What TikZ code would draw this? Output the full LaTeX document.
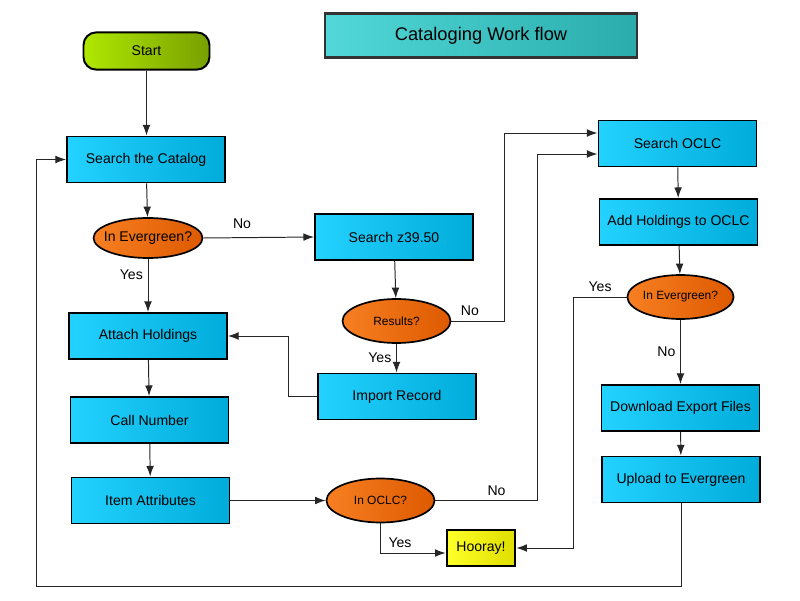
\documentclass[tikz,border=0pt]{standalone}
\usepackage{fontspec}
\setmainfont{Liberation Sans}
\usepackage{xcolor}
\usepackage{tikz}
\usetikzlibrary{positioning,arrows.meta,shapes,calc}
\definecolor{boxlight}{HTML}{24D2FF}
\definecolor{boxdark}{HTML}{00ACD9}
\definecolor{decilight}{HTML}{F77F22}
\definecolor{decidark}{HTML}{DE5A00}
\definecolor{startlight}{HTML}{B0E800}
\definecolor{startdark}{HTML}{78A000}
\definecolor{yaylight}{HTML}{FFFF2A}
\definecolor{yaydark}{HTML}{DEDE00}
\definecolor{titlelight}{HTML}{52D8D8}
\definecolor{titledark}{HTML}{2AACAC}

\begin{document}
\begin{tikzpicture}[
  >={Latex[length=7.5pt,width=5.5pt]},
  font=\fontsize{10}{12}\selectfont,
  task/.style={
    rectangle, draw=black, line width=1.4pt,
    left color=boxlight, right color=boxdark,
    minimum width=3.95cm, minimum height=1.15cm, align=center
  },
  decide/.style={
    ellipse, draw=black, line width=1.2pt,
    left color=decilight, right color=decidark,
    minimum width=2.7cm, minimum height=1.1cm, inner sep=0pt,
    font=\fontsize{8.5}{10}\selectfont
  },
  flow/.style={->, line width=0.7pt, draw=black!85}
]
\useasboundingbox (0,0) rectangle (20,15);

\node[rectangle, draw=black!80, line width=2pt, left color=titlelight, right color=titledark,
  minimum width=7.8cm, minimum height=1.1cm, font=\fontsize{13}{15}\selectfont] (T) at (12.025, 14.1125) {Cataloging Work flow};

\node[rectangle, rounded corners=9pt, draw=black, line width=1.4pt, left color=startlight, right color=startdark,
  minimum width=3.15cm, minimum height=0.93cm] (ST) at (3.6625, 13.725) {Start};

% left column
\node[task] (SC) at (3.65, 11.0125) {Search the Catalog};
\node[decide, inner xsep=-4pt, minimum height=1.0cm, font=\fontsize{10}{12}\selectfont] (IE) at (3.7, 9.05) {In Evergreen?};
\node[task] (AH) at (3.7, 6.6) {Attach Holdings};
\node[task] (CN) at (3.7375, 4.5) {Call Number};
\node[task] (IA) at (3.7625, 2.4875) {Item Attributes};

% middle column
\node[task] (SZ) at (9.85, 9.075) {Search z39.50};
\node[decide] (RS) at (9.9125, 6.975) {Results?};
\node[task] (IR) at (9.925, 5.0875) {Import Record};
\node[decide] (IO) at (9.5125, 2.4875) {In OCLC?};
\node[rectangle, draw=black, line width=1.4pt, left color=yaylight, right color=yaydark,
  minimum width=1.72cm, minimum height=0.88cm] (HO) at (12.025, 1.3) {Hooray!};

% right column
\node[task] (SO) at (16.9375, 11.4125) {Search OCLC};
\node[task] (AO) at (16.9625, 9.45) {Add Holdings to OCLC};
\node[decide, minimum width=2.62cm] (IE2) at (17.0125, 7.575) {In Evergreen?};
\node[task] (DE) at (17.0125, 4.8) {Download Export Files};
\node[task] (UE) at (17.025, 3.0125) {Upload to Evergreen};

\draw[flow] (ST.south) -- (ST.south |- SC.north);
\draw[flow] (SC) -- (IE);
\draw[flow] (IE.east) -- (SZ.west) node[pos=0.35, above=3pt] {No};
\draw[flow] (IE.south) -- (IE.south |- AH.north) node[pos=0.3, left] {Yes};
\draw[flow] (SZ) -- (RS);
\draw[flow] (RS.south) -- (RS.south |- IR.north) node[midway, left] {Yes};
\draw[flow] (RS.east) -- ++(1.325,0) node[pos=0.35, above] {No} |- ($(SO.west)+(0,0.2625)$);
\draw[flow] (IR.west) -- ++(-0.725,0) |- (AH.east);
\draw[flow] (AH) -- (CN);
\draw[flow] (CN) -- (IA);
\draw[flow] (IA.east) -- (IO.west);
\draw[flow] (IO.east) -- ++(2.55,0) node[pos=0.6, above] {No} |- ($(SO.west)+(0,-0.2625)$);
\draw[flow] (IO.south) |- ($(HO.west)+(0,-0.125)$) node[pos=0.65, above] {Yes};
\draw[flow] (SO) -- (AO);
\draw[flow] (AO) -- (IE2);
\draw[flow] (IE2.west) -- ++(-1.325,0) node[midway, above] {Yes} |- (HO.east);
\draw[flow] (IE2.south) -- (IE2.south |- DE.north) node[midway, left] {No};
\draw[flow] (DE) -- (UE);
\draw[flow] (UE.south) -- ++(0,-2.075) -| ($(SC.west)+(-0.75,0)$) -- (SC.west);

\end{tikzpicture}
\end{document}
